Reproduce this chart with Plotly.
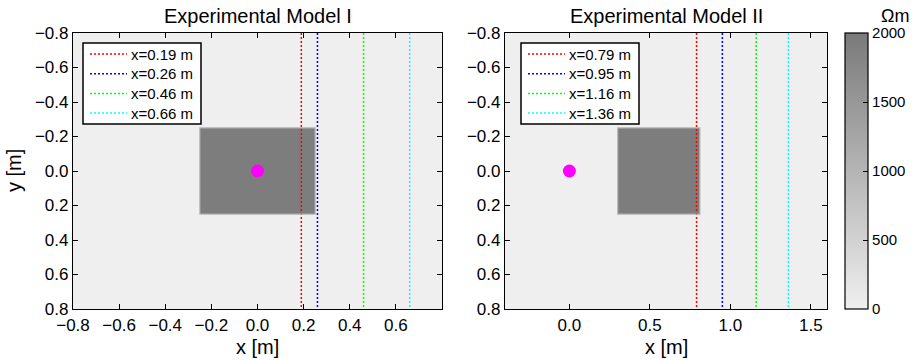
import plotly.graph_objects as go

W, H = 917, 361

# ---- data ----
x_edges_1 = [-0.8, -0.25, 0.25, 0.8]
x_edges_2 = [-0.4, 0.3, 0.81, 1.6]
y_edges = [-0.8, -0.25, 0.25, 0.8]
rho_1 = [[0, 0, 0], [0, 1950, 0], [0, 0, 0]]
rho_2 = [[0, 0, 0], [0, 1950, 0], [0, 0, 0]]
source_x = [0.0]
source_y = [0.0]
profiles_1 = [0.19, 0.26, 0.46, 0.66]
profiles_2 = [0.79, 0.95, 1.16, 1.36]
profile_colors = ["#ff0000", "#0000ff", "#00ff00", "#00ffff"]
xticks_1 = [-0.8, -0.6, -0.4, -0.2, 0.0, 0.2, 0.4, 0.6]
xticks_2 = [0.0, 0.5, 1.0, 1.5]
yticks = [-0.8, -0.6, -0.4, -0.2, 0.0, 0.2, 0.4, 0.6, 0.8]
cbar_ticks = [0, 500, 1000, 1500, 2000]

FONT = "Liberation Sans, Arial, sans-serif"
cscale = [[0, "#efefef"], [1, "#7a7a7a"]]

ML, MR, MT, MB = 73, 49, 33, 52
PW, PH = W - ML - MR, H - MT - MB

def px(v):
    return (v - ML) / PW

def py(v):
    return 1 - (v - MT) / PH

fig = go.Figure()

fig.add_trace(go.Heatmap(x=x_edges_1, y=y_edges, z=rho_1, zmin=0, zmax=2000,
                         colorscale=cscale, showscale=False, xaxis="x", yaxis="y",
                         hoverinfo="skip"))
fig.add_trace(go.Heatmap(x=x_edges_2, y=y_edges, z=rho_2, zmin=0, zmax=2000,
                         colorscale=cscale, xaxis="x2", yaxis="y2", hoverinfo="skip",
                         colorbar=dict(x=px(845), xanchor="left", thickness=23,
                                       len=1, lenmode="fraction", y=0.5, yanchor="middle",
                                       outlinecolor="black", outlinewidth=1.2,
                                       tickvals=cbar_ticks, ticks="inside", ticklen=5,
                                       tickcolor="black",
                                       tickfont=dict(size=15, family=FONT, color="black"),
                                       ypad=0, xpad=0)))

shapes = []
annotations = []

# soft (interpolated-looking) edge of the resistive block
for xe, xr, yr in ((x_edges_1, "x", "y"), (x_edges_2, "x2", "y2")):
    shapes.append(dict(type="rect", xref=xr, yref=yr, x0=xe[1], x1=xe[2],
                       y0=y_edges[1], y1=y_edges[2],
                       line=dict(color="#b4b4b4", width=1.2), layer="above"))

def add_panel(profiles, xa, ya, box_left):
    for k, (xv, c) in enumerate(zip(profiles, profile_colors)):
        fig.add_trace(go.Scatter(x=[xv, xv], y=[-0.8, 0.8], mode="lines",
                                 line=dict(color=c, width=1.5, dash="2px,2px"),
                                 showlegend=False, xaxis=xa, yaxis=ya, hoverinfo="skip"))
    # legend box
    shapes.append(dict(type="rect", xref="paper", yref="paper",
                       x0=px(box_left), x1=px(box_left + 118), y0=py(124), y1=py(43),
                       fillcolor="white", line=dict(color="black", width=1.5), layer="above"))
    for k, (xv, c) in enumerate(zip(profiles, profile_colors)):
        yc = 54 + k * 19.7
        shapes.append(dict(type="line", xref="paper", yref="paper",
                           x0=px(box_left + 7), x1=px(box_left + 44), y0=py(yc), y1=py(yc),
                           line=dict(color=c, width=1.5, dash="2px,2px"), layer="above"))
        annotations.append(dict(text=f"x={xv:.2f} m", x=px(box_left + 46), y=py(yc),
                                xref="paper", yref="paper", showarrow=False,
                                xanchor="left", yanchor="middle",
                                font=dict(size=15, family=FONT, color="black")))

add_panel(profiles_1, "x", "y", 83)
add_panel(profiles_2, "x2", "y2", 521)

for xa, ya in (("x", "y"), ("x2", "y2")):
    fig.add_trace(go.Scatter(x=source_x, y=source_y, mode="markers",
                             marker=dict(color="#ff00ff", size=13, line=dict(width=0)),
                             showlegend=False, xaxis=xa, yaxis=ya))

axis_common = dict(showgrid=False, zeroline=False, showline=True, linecolor="black",
                   linewidth=1.2, mirror="ticks", ticks="inside", ticklen=5,
                   tickcolor="black", tickwidth=1.2, automargin=False,
                   tickfont=dict(size=17, family=FONT, color="black"))

def title_ann(text, x, y, size=20, angle=0):
    return dict(text=text, x=px(x), y=py(y), xref="paper", yref="paper", textangle=angle,
                showarrow=False, font=dict(size=size, family=FONT, color="black"),
                xanchor="center", yanchor="middle")

annotations += [
    title_ann("Experimental Model I", 257.5, 16),
    title_ann("Experimental Model II", 666, 16),
    title_ann("x [m]", 257.5, 347),
    title_ann("x [m]", 666, 347),
    title_ann("y [m]", 14, 171, angle=-90),
    title_ann("Ωm", 895, 16, size=18),
]

fig.update_layout(
    width=W, height=H, margin=dict(l=ML, r=MR, t=MT, b=MB, autoexpand=False),
    paper_bgcolor="white", plot_bgcolor="#efefef", showlegend=False,
    xaxis=dict(domain=[px(73), px(442)], range=[-0.8, 0.8], tickvals=xticks_1,
               tickformat=".1f", anchor="y", **axis_common),
    yaxis=dict(domain=[0, 1], range=[0.8, -0.8], tickvals=yticks,
               tickformat=".1f", anchor="x", **axis_common),
    xaxis2=dict(domain=[px(505), px(827)], range=[-0.4, 1.6], tickvals=xticks_2,
                tickformat=".1f", anchor="y2", **axis_common),
    yaxis2=dict(domain=[0, 1], range=[0.8, -0.8], tickvals=yticks,
                tickformat=".1f", anchor="x2", **axis_common),
    font=dict(family=FONT, color="black"),
    shapes=shapes,
    annotations=annotations,
)

fig.write_html("out.html", config={"displayModeBar": False},
               post_script="document.body.style.margin='0px';document.body.style.overflow='hidden';")
